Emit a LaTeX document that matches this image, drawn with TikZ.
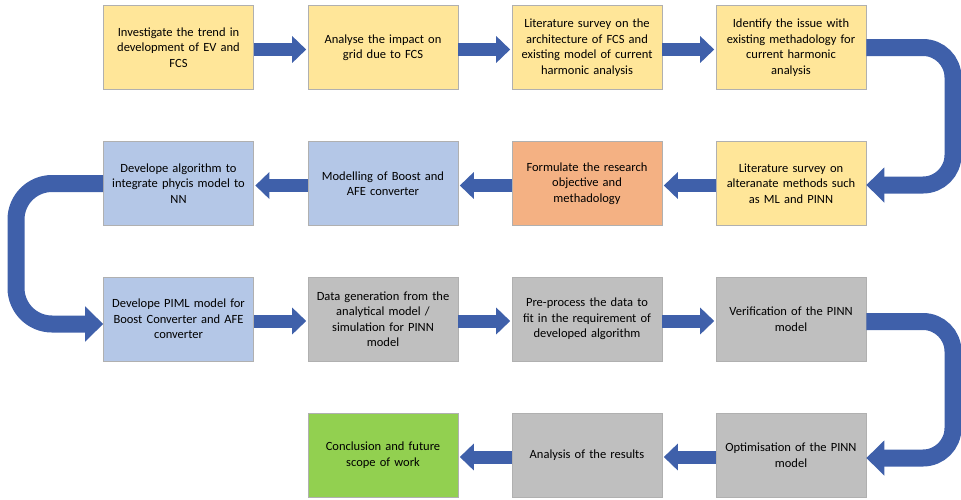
\documentclass[tikz,border=0pt]{standalone}
\usepackage{fontspec}
\setmainfont{Carlito}
\usetikzlibrary{arrows.meta}

\definecolor{boxyellow}{HTML}{FFE699}
\definecolor{boxorange}{HTML}{F4B183}
\definecolor{boxblue}{HTML}{B4C7E7}
\definecolor{boxgray}{HTML}{BFBFBF}
\definecolor{boxgreen}{HTML}{92D050}
\definecolor{flowblue}{HTML}{3F60AA}
\definecolor{edgegray}{HTML}{B0B0B0}

\tikzset{
  stepbox/.style={draw=edgegray, line width=0.6pt, minimum width=150pt, minimum height=84pt,
    text width=140pt, align=center, inner sep=0pt,
    font=\fontsize{12.5}{15.5}\selectfont},
  yel/.style={stepbox, fill=boxyellow},
  ora/.style={stepbox, fill=boxorange},
  blu/.style={stepbox, fill=boxblue},
  gry/.style={stepbox, fill=boxgray},
  grn/.style={stepbox, fill=boxgreen},
  flow/.style={draw=flowblue, line width=13pt, transform canvas={yshift=-2pt},
    -{Triangle[width=26pt,length=14pt]}, shorten >=1.5pt},
  uturn/.style={draw=flowblue, line width=17pt, rounded corners=30pt,
    -{Triangle[width=34pt,length=18pt]}}
}

\begin{document}
\begin{tikzpicture}[x=1pt,y=-1pt]
\useasboundingbox (0,0) rectangle (961,499);

% row 1
\node[yel] (n1) at (178.5,47.5) {Investigate the trend in\\ development of EV and\\ FCS};
\node[yel] (n2) at (383,47.5) {Analyse the impact on\\ grid due to FCS};
\node[yel] (n3) at (587,47.5) {Literature survey on the\\ architecture of FCS and\\ existing model of current\\ harmonic analysis};
\node[yel] (n4) at (791,47.5) {Identify the issue with\\ existing methadology for\\ current harmonic\\ analysis};

% row 2
\node[yel] (n5) at (791,183.5) {Literature survey on\\ alteranate methods such\\ as ML and PINN};
\node[ora] (n6) at (587,183.5) {Formulate the research\\ objective and\\ methadology};
\node[blu] (n7) at (383,183.5) {Modelling of Boost and\\ AFE converter};
\node[blu] (n8) at (178.5,183.5) {Develope algorithm to\\ integrate phycis model to\\ NN};

% row 3
\node[blu] (n9) at (178.5,319) {Develope PIML model for\\ Boost Converter and AFE\\ converter};
\node[gry] (n10) at (383,319) {Data generation from the\\ analytical model /\\ simulation for PINN\\ model};
\node[gry] (n11) at (587,319) {Pre-process the data to\\ fit in the requirement of\\ developed algorithm};
\node[gry] (n12) at (791,319) {Verification of the PINN\\ model};

% row 4
\node[gry] (n13) at (791,455) {Optimisation of the PINN\\ model};
\node[gry] (n14) at (587,455) {Analysis of the results};
\node[grn] (n15) at (383,455) {Conclusion and future\\ scope of work};

% straight connectors
\draw[flow] (n1) -- (n2);
\draw[flow] (n2) -- (n3);
\draw[flow] (n3) -- (n4);
\draw[flow] (n5) -- (n6);
\draw[flow] (n6) -- (n7);
\draw[flow] (n7) -- (n8);
\draw[flow] (n9) -- (n10);
\draw[flow] (n10) -- (n11);
\draw[flow] (n11) -- (n12);
\draw[flow] (n13) -- (n14);
\draw[flow] (n14) -- (n15);

% U-turn connectors between rows
\draw[uturn] (n4.east) -- (953,47.5) -- (953,185) -- ([yshift=-1.5pt]n5.east);
\draw[uturn, rounded corners=36pt] (n8.west) -- (16,183.5) -- (16,324) -- ([yshift=-5pt]n9.west);
\draw[uturn] ([yshift=-2.5pt]n12.east) -- (953,321.5) -- (953,458) -- ([yshift=-3pt]n13.east);
\end{tikzpicture}
\end{document}
